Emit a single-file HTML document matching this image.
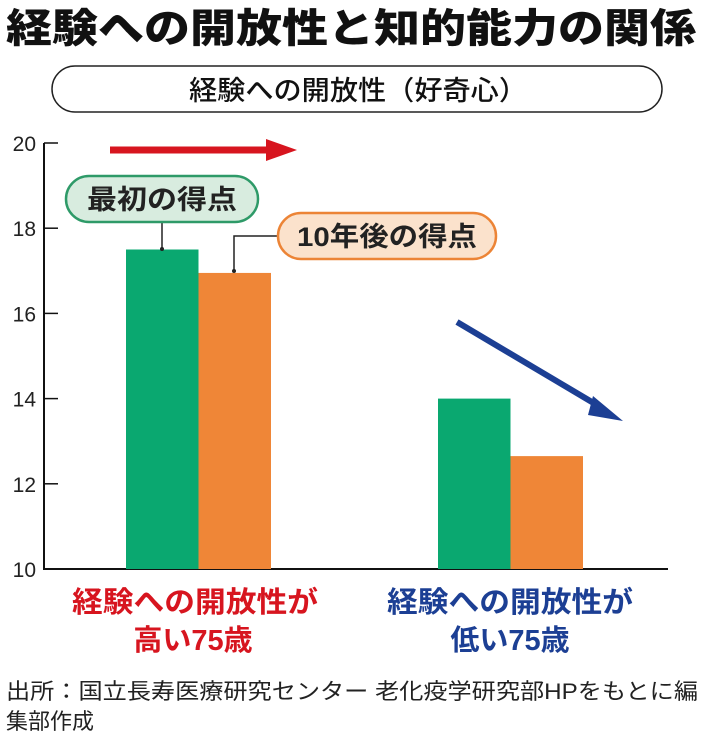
<!DOCTYPE html>
<html><head><meta charset="utf-8"><style>
body{margin:0;background:#fff;width:710px;height:745px;overflow:hidden;font-family:"Liberation Sans","Noto Sans CJK JP",sans-serif;}
</style></head><body>
<svg width="710" height="745" xmlns="http://www.w3.org/2000/svg" style="font-family:'Liberation Sans','Noto Sans CJK JP',sans-serif">
<text x="6" y="42" font-size="40" font-weight="900" fill="#111" textLength="690" lengthAdjust="spacingAndGlyphs">経験への開放性と知的能力の関係</text>
<rect x="52" y="66" width="610" height="46" rx="23" fill="#fff" stroke="#222" stroke-width="1.5"/>
<text x="358" y="100" font-size="27" font-weight="500" fill="#111" text-anchor="middle" textLength="338" lengthAdjust="spacingAndGlyphs">経験への開放性（好奇心）</text>
<g id="axes"></g>
<g id="bars"></g>
<line x1="110" y1="150" x2="270" y2="150" stroke="#d7151f" stroke-width="7"/>
<polygon points="266,139 297,150 266,161" fill="#d7151f"/>
<line x1="457" y1="322" x2="602" y2="408" stroke="#1c3f94" stroke-width="6"/>
<polygon points="593,396 623,421 588,415" fill="#1c3f94"/>
<line x1="162" y1="220" x2="162" y2="250" stroke="#222" stroke-width="1.5"/>
<circle cx="162" cy="249" r="2" fill="#222"/>
<polyline points="278,236 234,236 234,271" fill="none" stroke="#222" stroke-width="1.5"/>
<circle cx="234" cy="271" r="2" fill="#222"/>
<rect x="66" y="176" width="192" height="46" rx="23" fill="#d8ecdf" stroke="#2e9a68" stroke-width="2.5"/>
<text x="162" y="209" font-size="27" font-weight="700" fill="#222" text-anchor="middle" textLength="150" lengthAdjust="spacingAndGlyphs">最初の得点</text>
<rect x="278" y="213" width="218" height="46" rx="23" fill="#fbe2cc" stroke="#ec8436" stroke-width="2.5"/>
<text x="387" y="246" font-size="27" font-weight="700" fill="#222" text-anchor="middle" textLength="180" lengthAdjust="spacingAndGlyphs">10年後の得点</text>
<text x="195" y="612" font-size="29" font-weight="700" fill="#d7151f" text-anchor="middle" textLength="246" lengthAdjust="spacingAndGlyphs">経験への開放性が</text>
<text x="193" y="650" font-size="29" font-weight="700" fill="#d7151f" text-anchor="middle">高い75歳</text>
<text x="510" y="612" font-size="29" font-weight="700" fill="#1c3f94" text-anchor="middle" textLength="246" lengthAdjust="spacingAndGlyphs">経験への開放性が</text>
<text x="510" y="650" font-size="29" font-weight="700" fill="#1c3f94" text-anchor="middle">低い75歳</text>
<text x="6" y="699" font-size="22" fill="#222" textLength="692" lengthAdjust="spacingAndGlyphs">出所：国立長寿医療研究センター 老化疫学研究部HPをもとに編</text>
<text x="6" y="729" font-size="22" fill="#222">集部作成</text>
</svg>
<script>
const yTicks=[10,12,14,16,18,20];
const firstScores=[17.5,14.0];
const laterScores=[16.95,12.65];
const groupLeft=[126,438];
const NS="http://www.w3.org/2000/svg";
function y(v){return 569-(v-10)*42.6;}
const ax=document.getElementById('axes'),bg=document.getElementById('bars');
function mk(t,a,p){const e=document.createElementNS(NS,t);for(const k in a)e.setAttribute(k,a[k]);p.appendChild(e);return e;}
const va=mk('line',{x1:44,y1:y(20),x2:44,y2:570,stroke:'#111','stroke-width':2},ax);


const ha=mk('line',{x1:43,y1:569,x2:668,y2:569,stroke:'#111','stroke-width':2},ax);


yTicks.forEach(v=>{
  if(v>10){const tm=mk('line',{x1:44,y1:y(v),x2:58,y2:y(v),stroke:'#111','stroke-width':1.5},ax);
  
  }
  const t=mk('text',{x:36,y:y(v)+8,'font-size':21,fill:'#222','text-anchor':'end'},ax);
  t.textContent=v;
  
  
});
firstScores.forEach((v,i)=>{
  const r=mk('rect',{x:groupLeft[i],y:y(v),width:72.5,height:569-y(v),fill:'#0aa870'},bg);
  
  
});
laterScores.forEach((v,i)=>{
  const r=mk('rect',{x:groupLeft[i]+72.5,y:y(v),width:72.5,height:569-y(v),fill:'#ef8637'},bg);
  
  
});
</script>
</body></html>
